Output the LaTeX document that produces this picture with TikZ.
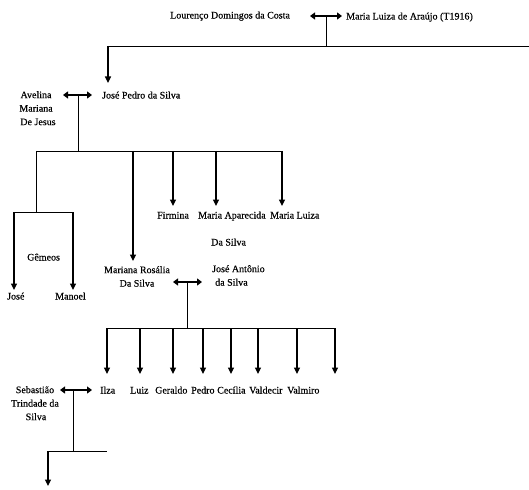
\documentclass[tikz,border=0pt]{standalone}
\usepackage{fontspec}
\setmainfont{Liberation Serif}[FakeBold=0.35]
\usetikzlibrary{arrows.meta}
\begin{document}
\begin{tikzpicture}[x=1pt,y=-1pt,
  lbl/.style={anchor=base west,inner sep=0pt,font=\fontsize{10}{13.5}\selectfont},
  ml/.style={inner sep=0pt,font=\fontsize{10}{13.5}\selectfont,align=center,anchor=north},
  ln/.style={line width=0.9pt},
  dn/.style={line width=1.1pt,-{Triangle[length=6.5pt,width=6pt]}},
  cp/.style={line width=1.6pt,{Triangle[length=5pt,width=7pt]}-{Triangle[length=5pt,width=7pt]}},
]
\useasboundingbox (0,0) rectangle (529,489);

% ---- names ----
\node[lbl] (lourenco) at (170,18.5) {Lourenço Domingos da Costa};
\node[lbl] (mluizaA) at (346,19.5) {Maria Luiza de Araújo (T1916)};
\node[lbl] (jpedro) at (102,98.5) {José Pedro da Silva};
\node[ml] (avelina) at (36,91) {Avelina\\Mariana\\\hspace{4pt}De Jesus};
\node[lbl] (firmina) at (157,218.5) {Firmina};
\node[lbl] (maparecida) at (198,218.5) {Maria Aparecida};
\node[lbl] (mluizaB) at (270,218.5) {Maria Luiza};
\node[lbl] (dasilva) at (211,245.5) {Da Silva};
\node[lbl] (gemeos) at (27,260.5) {Gêmeos};
\node[lbl] (jose) at (7,299.5) {José};
\node[lbl] (manoel) at (55,299.5) {Manoel};
\node[ml] (mrosalia) at (137,266) {Mariana Rosália\\Da Silva};
\node[ml,anchor=north west,align=left] (jantonio) at (212,265) {José Antônio\\\hspace{3pt}da Silva};
\node[lbl] (ilza) at (100,393.5) {Ilza};
\node[lbl] (luiz) at (130,393.5) {Luiz};
\node[lbl] (geraldo) at (155,393.5) {Geraldo};
\node[lbl] (pedro) at (191,393.5) {Pedro};
\node[lbl] (cecilia) at (217,393.5) {Cecília};
\node[lbl] (valdecir) at (249,393.5) {Valdecir};
\node[lbl] (valmiro) at (287,393.5) {Valmiro};
\node[ml] (sebastiao) at (35,386) {Sebastião\\Trindade da\\\hspace{2pt}Silva};

% ---- coordinates ----
\coordinate (c1l) at (310,16);
\coordinate (c1r) at (342,16);
\coordinate (c1m) at (326,17);
\coordinate (b1m) at (326,46);
\coordinate (b1l) at (108,46);
\coordinate (b1r) at (529,46);
\coordinate (t1) at (108,83);

\coordinate (c2l) at (63,95);
\coordinate (c2r) at (92,95);
\coordinate (c2m) at (78,96);
\coordinate (b2m) at (78,151);
\coordinate (b2l) at (36,151);
\coordinate (b2r) at (282,151);
\coordinate (b2a) at (133,151);
\coordinate (b2b) at (173,151);
\coordinate (b2c) at (216,151);
\coordinate (tw) at (36,212);
\coordinate (twl) at (14,212);
\coordinate (twr) at (73,212);
\coordinate (tjose) at (14,290);
\coordinate (tmanoel) at (73,290);
\coordinate (tmros) at (133,261);
\coordinate (tfirm) at (173,206);
\coordinate (tmap) at (216,206);
\coordinate (tmlu) at (282,206);

\coordinate (c3l) at (173,282);
\coordinate (c3r) at (202,282);
\coordinate (c3m) at (187,283);
\coordinate (b3m) at (187,328);
\coordinate (b3l) at (107,328);
\coordinate (b3r) at (335,328);

\coordinate (c4l) at (60,390);
\coordinate (c4r) at (92,390);
\coordinate (c4m) at (73,391);
\coordinate (b4m) at (73,451);
\coordinate (b4l) at (48,451);
\coordinate (b4r) at (107,451);
\coordinate (t4) at (48,486);

% ---- connectors ----
\draw[cp] (c1l) -- (c1r);
\draw[ln] (c1m) -- (b1m);
\draw[ln] (b1l) -- (b1r);
\draw[dn] (b1l) -- (t1);

\draw[cp] (c2l) -- (c2r);
\draw[ln] (c2m) -- (b2m);
\draw[ln] (b2l) -- (b2r);
\draw[ln] (b2l) -- (tw);
\draw[ln] (twl) -- (twr);
\draw[dn] (twl) -- (tjose);
\draw[dn] (twr) -- (tmanoel);
\draw[dn] (b2a) -- (tmros);
\draw[dn] (b2b) -- (tfirm);
\draw[dn] (b2c) -- (tmap);
\draw[dn] (b2r) -- (tmlu);

\draw[cp] (c3l) -- (c3r);
\draw[ln] (c3m) -- (b3m);
\draw[ln] (b3l) -- (b3r);
\foreach \x/\n in {107/a,140/b,173/c,203/d,231/e,258/f,297/g,335/h}{
  \coordinate (s\n) at (\x,328);
  \coordinate (e\n) at (\x,374);
  \draw[dn] (s\n) -- (e\n);
}

\draw[cp] (c4l) -- (c4r);
\draw[ln] (c4m) -- (b4m);
\draw[ln] (b4l) -- (b4r);
\draw[dn] (b4l) -- (t4);
\end{tikzpicture}
\end{document}
